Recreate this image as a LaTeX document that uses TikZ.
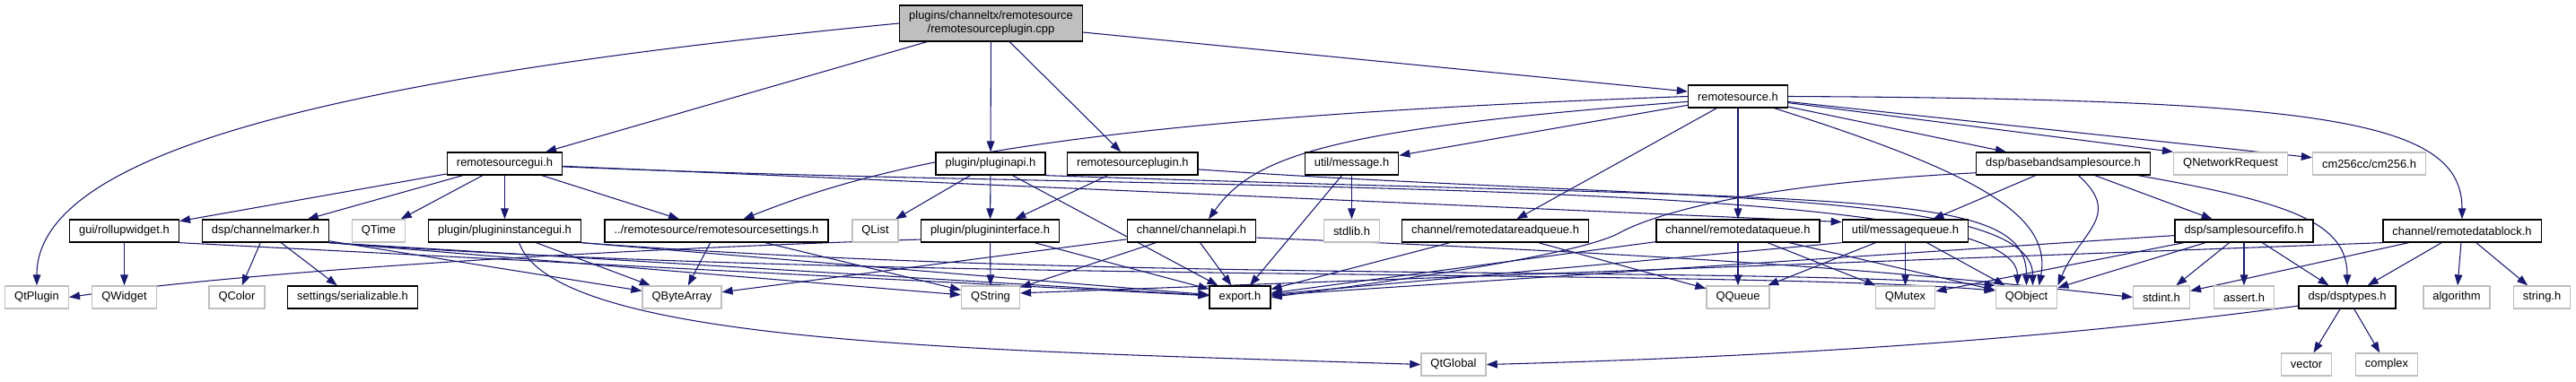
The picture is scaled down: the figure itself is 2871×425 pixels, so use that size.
\documentclass[tikz,border=0pt]{standalone}
\usepackage{fontspec}
\setmainfont{Liberation Sans}
\usetikzlibrary{arrows.meta, calc, backgrounds}
\definecolor{dxEdge}{HTML}{191970}
\definecolor{dxGrey}{HTML}{BFBFBF}

\begin{document}
\begin{tikzpicture}[
  x=0.75pt, y=-0.75pt,
  hdr/.style={draw=black, line width=1pt, fill=white, font=\fontsize{9.7}{11.25}\selectfont,
              inner xsep=7.9pt, inner ysep=0pt, minimum height=18.75pt},
  root/.style={hdr, fill=dxGrey, align=center, minimum height=30pt},
  sys/.style={hdr, draw=dxGrey},
  arr/.style={-{Triangle[length=9pt,width=6.5pt]}, line width=0.8pt, color=dxEdge}
]
\useasboundingbox (0,0) rectangle (2871,425);

\node[root] (main) at (1104.5,26) {plugins/channeltx/remotesource\\/remotesourceplugin.cpp};
\node[hdr] (rsrc) at (1937,107.5) {remotesource.h};

\node[hdr] (gui) at (562.5,182.5) {remotesourcegui.h};
\node[hdr] (papi) at (1104,182.5) {plugin/pluginapi.h};
\node[hdr] (rplug) at (1262.4,182.5) {remotesourceplugin.h};
\node[hdr] (msg) at (1506.5,182.5) {util/message.h};
\node[hdr] (bbss) at (2299.5,182.5) {dsp/basebandsamplesource.h};
\node[sys] (qnet) at (2486,182.5) {QNetworkRequest};
\node[sys] (cm256) at (2640.5,182.5) {cm256cc/cm256.h};

\node[hdr] (roll) at (138.5,257.5) {gui/rollupwidget.h};
\node[hdr] (cmark) at (296,257.5) {dsp/channelmarker.h};
\node[sys] (qtime) at (422,257.5) {QTime};
\node[hdr] (pig) at (562.5,257.5) {plugin/plugininstancegui.h};
\node[hdr] (rset) at (798.5,257.5) {../remotesource/remotesourcesettings.h};
\node[sys] (qlist) at (975.5,257.5) {QList};
\node[hdr] (pint) at (1103.5,257.5) {plugin/plugininterface.h};
\node[hdr] (capi) at (1328,257.5) {channel/channelapi.h};
\node[sys] (stdlib) at (1506.5,257.5) {stdlib.h};
\node[hdr] (rdrq) at (1666.5,257.5) {channel/remotedatareadqueue.h};
\node[hdr] (rdq) at (1937,257.5) {channel/remotedataqueue.h};
\node[hdr] (mq) at (2123.5,257.5) {util/messagequeue.h};
\node[hdr] (fifo) at (2501,257.5) {dsp/samplesourcefifo.h};
\node[hdr] (rdb) at (2744,257.5) {channel/remotedatablock.h};

\node[sys] (qtplugin) at (41,331.5) {QtPlugin};
\node[sys] (qwidget) at (138.5,331.5) {QWidget};
\node[sys] (qcolor) at (264,331.5) {QColor};
\node[hdr] (ser) at (393,331.5) {settings/serializable.h};
\node[sys] (qba) at (760,331.5) {QByteArray};
\node[sys] (qstr) at (1104,331.5) {QString};
\node[hdr] (exp) at (1382,331.5) {export.h};
\node[sys] (qqueue) at (1937,331.5) {QQueue};
\node[sys] (qmutex) at (2123.5,331.5) {QMutex};
\node[sys] (qobj) at (2258.5,331.5) {QObject};
\node[sys] (stdint) at (2409,331.5) {stdint.h};
\node[sys] (assert) at (2501,331.5) {assert.h};
\node[hdr] (dspt) at (2616,331.5) {dsp/dsptypes.h};
\node[sys] (algo) at (2738,331.5) {algorithm};
\node[sys] (strh) at (2833,331.5) {string.h};

\node[sys] (qtglobal) at (1620,406.5) {QtGlobal};
\node[sys] (vector) at (2570.5,406.5) {vector};
\node[sys] (complex) at (2660,406.5) {complex};

\coordinate (bbssbend) at (1808,258);

\begin{scope}[on background layer]
\draw[arr] (main.west) .. controls +(-620,60) and +(0,-150) .. (qtplugin.north);
\draw[arr] (main) -- (gui);
\draw[arr] (main) -- (papi);
\draw[arr] (main) -- (rplug);
\draw[arr] (main) -- (rsrc);

\draw[arr] (gui) -- (roll);
\draw[arr] (gui) -- (cmark);
\draw[arr] (gui) -- (qtime);
\draw[arr] (gui) -- (pig);
\draw[arr] (gui) -- (rset);
\draw[arr] (gui) -- (mq.172);
\draw[arr] (gui.-3) .. controls +(673,29) and +(0,-124) .. ($(qobj.north)+(-10,0)$);

\draw[arr] (papi) -- (qlist);
\draw[arr] (papi) -- (pint);
\draw[arr] (papi) -- (exp);
\draw[arr] (papi.south east) .. controls +(900,30) and +(0,-110) .. (qobj.north);
\draw[arr] (rplug) -- (pint);
\draw[arr] (rplug.-5) .. controls +(500,35) and +(0,-110) .. ($(qobj.north)+(7,0)$);

\draw[arr] (rsrc.west) .. controls +(-700,25) and +(150,-60) .. ($(rset.north)+(30,0)$);
\draw[arr] (rsrc.186) .. controls +(-400,30) and +(50,-70) .. ($(capi.north)+(19,0)$);
\draw[arr] (rsrc) -- (msg);
\draw[arr] (rsrc) -- (rdrq);
\draw[arr] (rsrc) -- (rdq);
\draw[arr] (rsrc.-18) .. controls +(220,70) and +(15,-80) .. ($(qobj.north)+(14,0)$);
\draw[arr] (rsrc) -- (bbss);
\draw[arr] (rsrc) -- (qnet.north west);
\draw[arr] (rsrc) -- (cm256);
\draw[arr] (rsrc.east) .. controls +(600,3) and +(0,-110) .. (rdb.north);

\draw[arr] (msg) -- (stdlib);
\draw[arr] (msg) -- (exp);

\draw[arr] (bbss) -- (mq);
\draw[arr] (bbss) -- (fifo);
\draw[arr] ($(bbss.south)+(17,0)$) .. controls +(50,45) and +(25,-60) .. (qobj.north east);
\draw[arr] ($(bbss.south east)+(-14,0)$) .. controls +(170,30) and +(0,-70) .. (dspt.north);
\draw[arr] (bbss.186) .. controls +(-200,10) and +(60,-30) .. (bbssbend)
  .. controls +(-40,25) and +(150,-20) .. (exp.east);

\draw[arr] (roll) -- (qwidget);
\draw[arr] (roll.south east) -- (exp);

\draw[arr] (cmark) -- (qcolor);
\draw[arr] (cmark) -- (ser);
\draw[arr] (cmark) -- (qba);
\draw[arr] (cmark.south east) -- (qstr);
\draw[arr] (cmark.south east) -- (exp);
\draw[arr] (cmark.south east) .. controls +(600,45) and +(-300,-25) .. (qobj.168);

\draw[arr] (pig) -- (qba);
\draw[arr] ($(pig.south)+(16,0)$) .. controls +(41.5,115) and +(-480,-16) .. (qtglobal.west);
\draw[arr] (pig.south east) -- (exp);
\draw[arr] (pig.south east) .. controls +(600,45) and +(-300,-22) .. (qobj.north west);

\draw[arr] (rset) -- (qba);
\draw[arr] (rset) -- (qstr);

\draw[arr] (pint.187) .. controls +(-426,14) and +(173,-25) .. (qtplugin.east);
\draw[arr] (pint) -- (qstr);
\draw[arr] (pint) -- (exp);

\draw[arr] (capi) -- (qba);
\draw[arr] (capi) -- (qstr);
\draw[arr] (capi) -- (exp);
\draw[arr] (capi.-6) .. controls +(500,20) and +(-250,-28) .. (stdint.west);

\draw[arr] (rdrq) -- (exp);
\draw[arr] (rdrq) -- (qqueue);

\draw[arr] (rdq) -- (qqueue);
\draw[arr] (rdq) -- (qmutex);
\draw[arr] (rdq) -- (qobj);
\draw[arr] (rdq) -- (exp);

\draw[arr] (mq) -- (qqueue);
\draw[arr] (mq) -- (qmutex);
\draw[arr] (mq) -- (qobj);
\draw[arr] (mq.south west) -- (exp);

\draw[arr] (fifo) -- (qmutex);
\draw[arr] (fifo) -- (qobj);
\draw[arr] (fifo) -- (stdint);
\draw[arr] (fifo) -- (assert);
\draw[arr] (fifo) -- (dspt);
\draw[arr] (fifo) -- (exp);

\draw[arr] (rdb) -- (dspt);
\draw[arr] (rdb) -- (algo);
\draw[arr] (rdb) -- (strh);
\draw[arr] (rdb) -- (stdint);
\draw[arr] (rdb.south west) -- (qstr.8);

\draw[arr] (dspt.190) .. controls +(-300,40) and +(300,-8) .. (qtglobal.east);
\draw[arr] (dspt) -- (vector);
\draw[arr] (dspt) -- (complex);
\end{scope}
\end{tikzpicture}
\end{document}
